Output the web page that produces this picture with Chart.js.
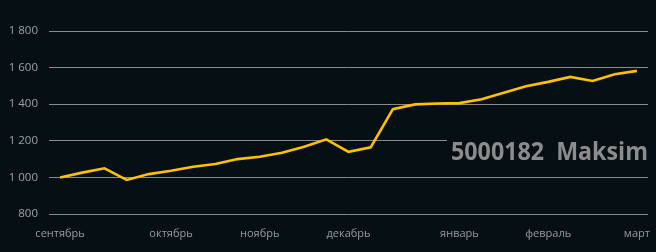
<!DOCTYPE html>
<html>
<head>
<meta charset="utf-8">
<script src="https://cdn.jsdelivr.net/npm/chart.js@4/dist/chart.umd.min.js"></script>
<style>
  html, body { margin: 0; padding: 0; background: #061014; }
  #wrap { width: 656px; height: 252px; }
</style>
</head>
<body>
<div id="wrap"><canvas id="grafico" width="656" height="252"></canvas></div>
<script>
// categorias (solo algunas llevan nombre de mes)
const etiquetas = ['сентябрь', '', '', '', '', 'октябрь', '', '', '', 'ноябрь', '', '', '', 'декабрь',
    '', '', '', '', 'январь', '', '', '', 'февраль', '', '', '', 'март'];
const valores = [1000, 1026, 1050, 986, 1018, 1036, 1058, 1073, 1100, 1113, 1135, 1167, 1208, 1140,
    1164, 1373, 1399, 1404, 1406, 1427, 1462, 1498, 1522, 1549, 1527, 1564, 1582];
const ticksY = [800, 1000, 1200, 1400, 1600, 1800];
const marca = '5000182  Maksim';

const fondo = '#061014';

function formatoMiles(v) {
    return String(v).replace(/\B(?=(\d{3})+(?!\d))/g, ' ');
}

// texto de marca de agua con su caja de fondo
const pluginMarca = {
    id: 'marca',
    afterDraw(chart) {
        const ctx = chart.ctx;
        ctx.save();
        ctx.font = 'bold 25px "Open Sans", sans-serif';
        const ancho = ctx.measureText(marca).width;
        ctx.fillStyle = fondo;
        ctx.fillRect(447, 130, 209, 38);
        ctx.translate(451, 159.5);
        ctx.scale(197 / ancho, 1);
        ctx.fillStyle = '#8c8c8c';
        ctx.textBaseline = 'alphabetic';
        ctx.textAlign = 'left';
        ctx.fillText(marca, 0, 0);
        ctx.restore();
    }
};

const pluginFondo = {
    id: 'fondo',
    beforeDraw(chart) {
        const ctx = chart.ctx;
        ctx.save();
        ctx.fillStyle = fondo;
        ctx.fillRect(0, 0, chart.width, chart.height);
        ctx.restore();
    }
};

new Chart(document.getElementById('grafico'), {
    type: 'line',
    data: {
        labels: etiquetas,
        datasets: [{
            data: valores,
            borderColor: '#ffc000',
            borderWidth: 2.6,
            pointRadius: 0,
            tension: 0,
            fill: false
        }]
    },
    options: {
        responsive: false,
        animation: false,
        layout: { padding: { top: 31, right: 8, left: 0, bottom: 0 } },
        plugins: { legend: { display: false }, tooltip: { enabled: false } },
        scales: {
            x: {
                offset: true,
                grid: { display: false },
                border: { display: false },
                ticks: {
                    autoSkip: false,
                    maxRotation: 0,
                    color: '#9a9a9a',
                    font: { family: '"Open Sans", sans-serif', size: 11 },
                    padding: 5
                },
                afterFit(scale) { scale.height = 38; }
            },
            y: {
                min: 800,
                max: 1800,
                afterBuildTicks(scale) { scale.ticks = ticksY.map(v => ({ value: v })); },
                grid: { color: '#8a8a8a', lineWidth: 1, drawTicks: false },
                border: { display: false },
                ticks: {
                    color: '#a0a0a0',
                    font: { family: '"Open Sans", sans-serif', size: 11.5 },
                    padding: 11,
                    callback: v => formatoMiles(v)
                },
                afterFit(scale) { scale.width = 49; }
            }
        }
    },
    plugins: [pluginFondo, pluginMarca]
});
</script>
</body>
</html>
